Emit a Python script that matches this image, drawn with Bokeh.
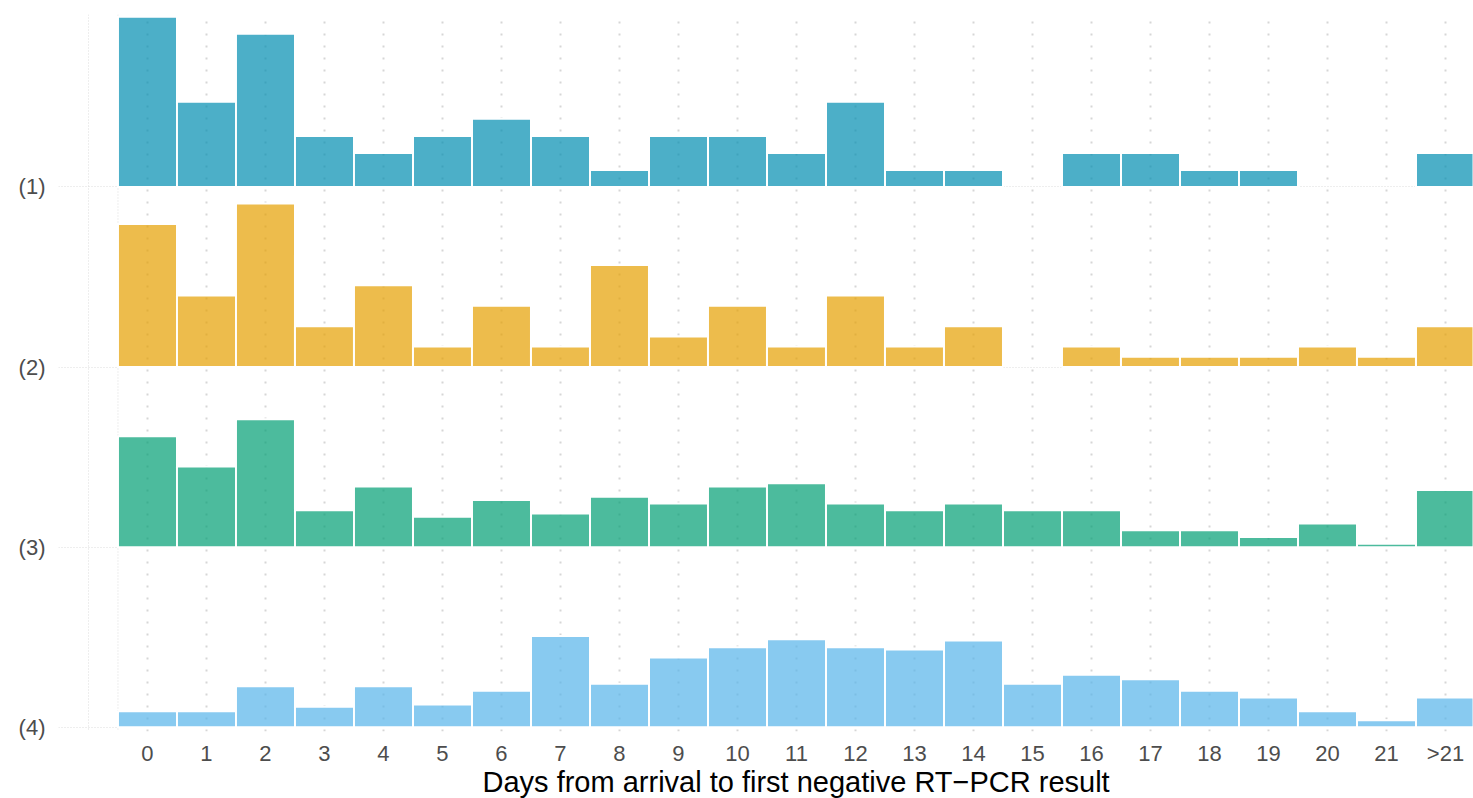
from bokeh.plotting import figure
from bokeh.models import Range1d, FixedTicker, Span, Title, ColumnDataSource
from bokeh.embed import file_html
from bokeh.resources import INLINE

# ---- data -------------------------------------------------------------
categories = [str(i) for i in range(22)] + [">21"]
groups = ["(1)", "(2)", "(3)", "(4)"]

counts_1 = [10, 5, 9, 3, 2, 3, 4, 3, 1, 3, 3, 2, 5, 1, 1, 0, 2, 2, 1, 1, 0, 0, 2]
counts_2 = [14, 7, 16, 4, 8, 2, 6, 2, 10, 3, 6, 2, 7, 2, 4, 0, 2, 1, 1, 1, 2, 1, 4]
counts_3 = [33, 24, 38, 11, 18, 9, 14, 10, 15, 13, 18, 19, 13, 11, 13, 11, 11, 5, 5, 3, 7, 1, 17]
counts_4 = [14, 14, 36, 18, 36, 20, 32, 80, 38, 61, 70, 77, 70, 68, 76, 38, 46, 42, 32, 26, 14, 6, 26]

colors = ["#008DB0", "#E69F00", "#009E73", "#56B4E9"]

title_text = "Days from arrival to first negative RT\u2212PCR result"

# ---- layout ----------------------------------------------------------
ROW_GAP = 16.79
FONT = "Liberation Sans"

p = figure(width=1473, height=798,
           x_range=Range1d(-1.508, 22.475), y_range=Range1d(-0.40, 66.45),
           output_backend="svg", toolbar_location=None,
           min_border_left=58, min_border_right=0,
           min_border_top=14, min_border_bottom=67)
p.outline_line_color = None
p.background_fill_color = "white"
p.border_fill_color = "white"

all_counts = [counts_1, counts_2, counts_3, counts_4]
baselines = []
for r, (cnts, col) in enumerate(zip(all_counts, colors)):
    offset = (3 - r) * ROW_GAP
    baselines.append(offset)
    total = float(sum(cnts))
    xs, bottoms, tops = [], [], []
    for i, c in enumerate(cnts):
        if c > 0:
            xs.append(i)
            bottoms.append(offset)
            tops.append(offset + 100.0 * c / total)
    src = ColumnDataSource(dict(x=xs, bottom=bottoms, top=tops))
    p.vbar(x="x", bottom="bottom", top="top", width=1.0, source=src,
           fill_color=col, fill_alpha=0.7, line_color="white", line_width=2)

# grids
p.xgrid.ticker = FixedTicker(ticks=list(range(len(categories))))
p.xgrid.grid_line_color = "#d6d6d6"
p.xgrid.grid_line_width = 2
p.xgrid.grid_line_dash = "2 10"
p.ygrid.ticker = FixedTicker(ticks=baselines)
p.ygrid.grid_line_color = "#dcdcdc"
p.ygrid.grid_line_width = 1
p.ygrid.grid_line_dash = "1 2"

for loc in (-1.0, -0.5):
    p.add_layout(Span(location=loc, dimension="height", line_color="#dcdcdc",
                      line_width=1, line_dash="1 2", level="underlay"))

# axes
p.xaxis.ticker = FixedTicker(ticks=list(range(len(categories))))
p.xaxis.major_label_overrides = {i: c for i, c in enumerate(categories)}
p.yaxis.ticker = FixedTicker(ticks=baselines)
p.yaxis.major_label_overrides = {b: g for b, g in zip(baselines, groups)}
for ax in (p.xaxis[0], p.yaxis[0]):
    ax.axis_line_color = None
    ax.major_tick_line_color = None
    ax.minor_tick_line_color = None
    ax.major_tick_out = 0
    ax.major_tick_in = 0
    ax.major_label_text_font = FONT
    ax.major_label_text_font_size = "22px"
    ax.major_label_text_color = "#4D4D4D"
p.xaxis.major_label_standoff = 9
p.yaxis.major_label_standoff = 13

p.add_layout(Title(text=title_text, align="left", offset=424, standoff=-6,
                   vertical_align="top",
                   text_font=FONT, text_font_size="29px",
                   text_font_style="normal", text_color="black"), "below")

open("out.html", "w").write(file_html(p, INLINE))
